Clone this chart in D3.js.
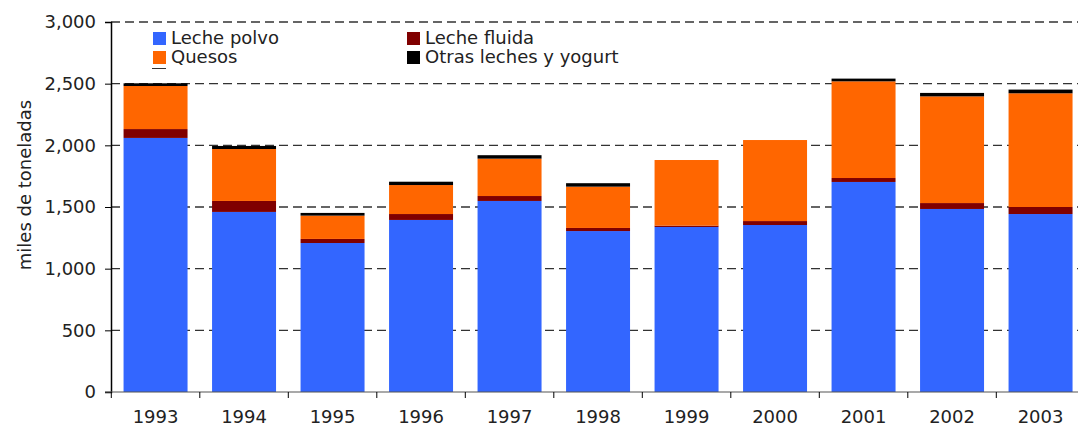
<!DOCTYPE html>
<html><head><meta charset="utf-8">
<script src="https://cdn.jsdelivr.net/npm/d3@7"></script>
<style>body{margin:0;background:#fff}svg{display:block;font-family:"DejaVu Sans",Verdana,sans-serif}</style>
</head><body><svg id="c" width="1078" height="427"></svg>
<script>
const years = ["1993","1994","1995","1996","1997","1998","1999","2000","2001","2002","2003"];
const lechePolvo = [2060,1460,1208,1395,1549,1305,1338,1354,1703,1484,1443];
const lecheFluida = [72,89,33,48,40,25,11,32,32,48,57];
const quesos = [349,421,189,235,303,335,532,657,784,865,922];
const otras = [22,25,22,27,28,28,0,0,22,28,30];
const seriesNames = ["Leche polvo","Leche fluida","Quesos","Otras leches y yogurt"];
const seriesColors = ["#3366FF","#800000","#FF6600","#000000"];
const yTicks = [0,500,1000,1500,2000,2500,3000];

const svg = d3.select("#c");
const x = d3.scaleBand().domain(years).range([111.3, 1084.8]).paddingInner(0.277).paddingOuter(0.1385);
const y = d3.scaleLinear().domain([0,3000]).range([392,22]);

// gridlines
svg.append("g").selectAll("line").data(yTicks.filter(d=>d>0)).join("line")
  .attr("x1",111).attr("x2",1078).attr("y1",d=>y(d)).attr("y2",d=>y(d))
  .attr("stroke","#333").attr("stroke-width",1.3).attr("stroke-dasharray","9,5");

const rows = years.map((yr,i)=>({year:yr, polvo:lechePolvo[i], fluida:lecheFluida[i], quesos:quesos[i], otras:otras[i]}));
const stack = d3.stack().keys(["polvo","fluida","quesos","otras"])(rows);
svg.append("g").selectAll("g").data(stack).join("g").attr("fill",(d,i)=>seriesColors[i])
  .selectAll("rect").data(d=>d.filter(p=>p[1]-p[0]>0)).join("rect")
  .attr("x",d=>x(d.data.year)).attr("width",x.bandwidth())
  .attr("y",d=>y(d[1])).attr("height",d=>y(d[0])-y(d[1]));

// y axis
const ya = svg.append("g").attr("transform","translate(111,0)")
  .call(d3.axisLeft(y).tickValues(yTicks).tickFormat(d3.format(",")).tickSize(6).tickPadding(9));
ya.select(".domain").attr("stroke","#000").attr("stroke-width",1.5);
ya.selectAll(".tick line").attr("stroke","#000");
ya.selectAll("text").attr("font-size",18).attr("fill","#222").attr("font-family","DejaVu Sans");

// x axis
const xa = svg.append("g").attr("transform","translate(0,392)");
xa.append("line").attr("x1",105).attr("x2",1078).attr("y1",0).attr("y2",0).attr("stroke","#555").attr("stroke-width",1.2);
xa.selectAll("line.t").data(years).join("line").attr("class","t")
  .attr("x1",d=>x(d)-x.step()*x.paddingInner()/2).attr("x2",d=>x(d)-x.step()*x.paddingInner()/2)
  .attr("y1",0).attr("y2",6).attr("stroke","#000");
xa.selectAll("text").data(years).join("text")
  .attr("x",d=>x(d)+x.bandwidth()/2).attr("y",31).attr("text-anchor","middle")
  .attr("font-size",18).attr("fill","#222").text(d=>d);

// y title
svg.append("text").attr("transform","translate(31,185) rotate(-90)").attr("text-anchor","middle")
  .attr("font-size",18).attr("fill","#222").text("miles de toneladas");

// legend
const leg = [[153,32,0],[407,32,1],[153,51,2],[407,51,3]];
leg.forEach(([lx,ly,i])=>{
  svg.append("rect").attr("x",lx).attr("y",ly).attr("width",13).attr("height",13).attr("fill",seriesColors[i]);
  svg.append("text").attr("x",lx+18).attr("y",ly+12).attr("font-size",18).attr("fill","#222").text(seriesNames[i]);
});
svg.append("line").attr("x1",152).attr("x2",166).attr("y1",68.5).attr("y2",68.5).attr("stroke","#333").attr("stroke-width",1);
</script></body></html>
